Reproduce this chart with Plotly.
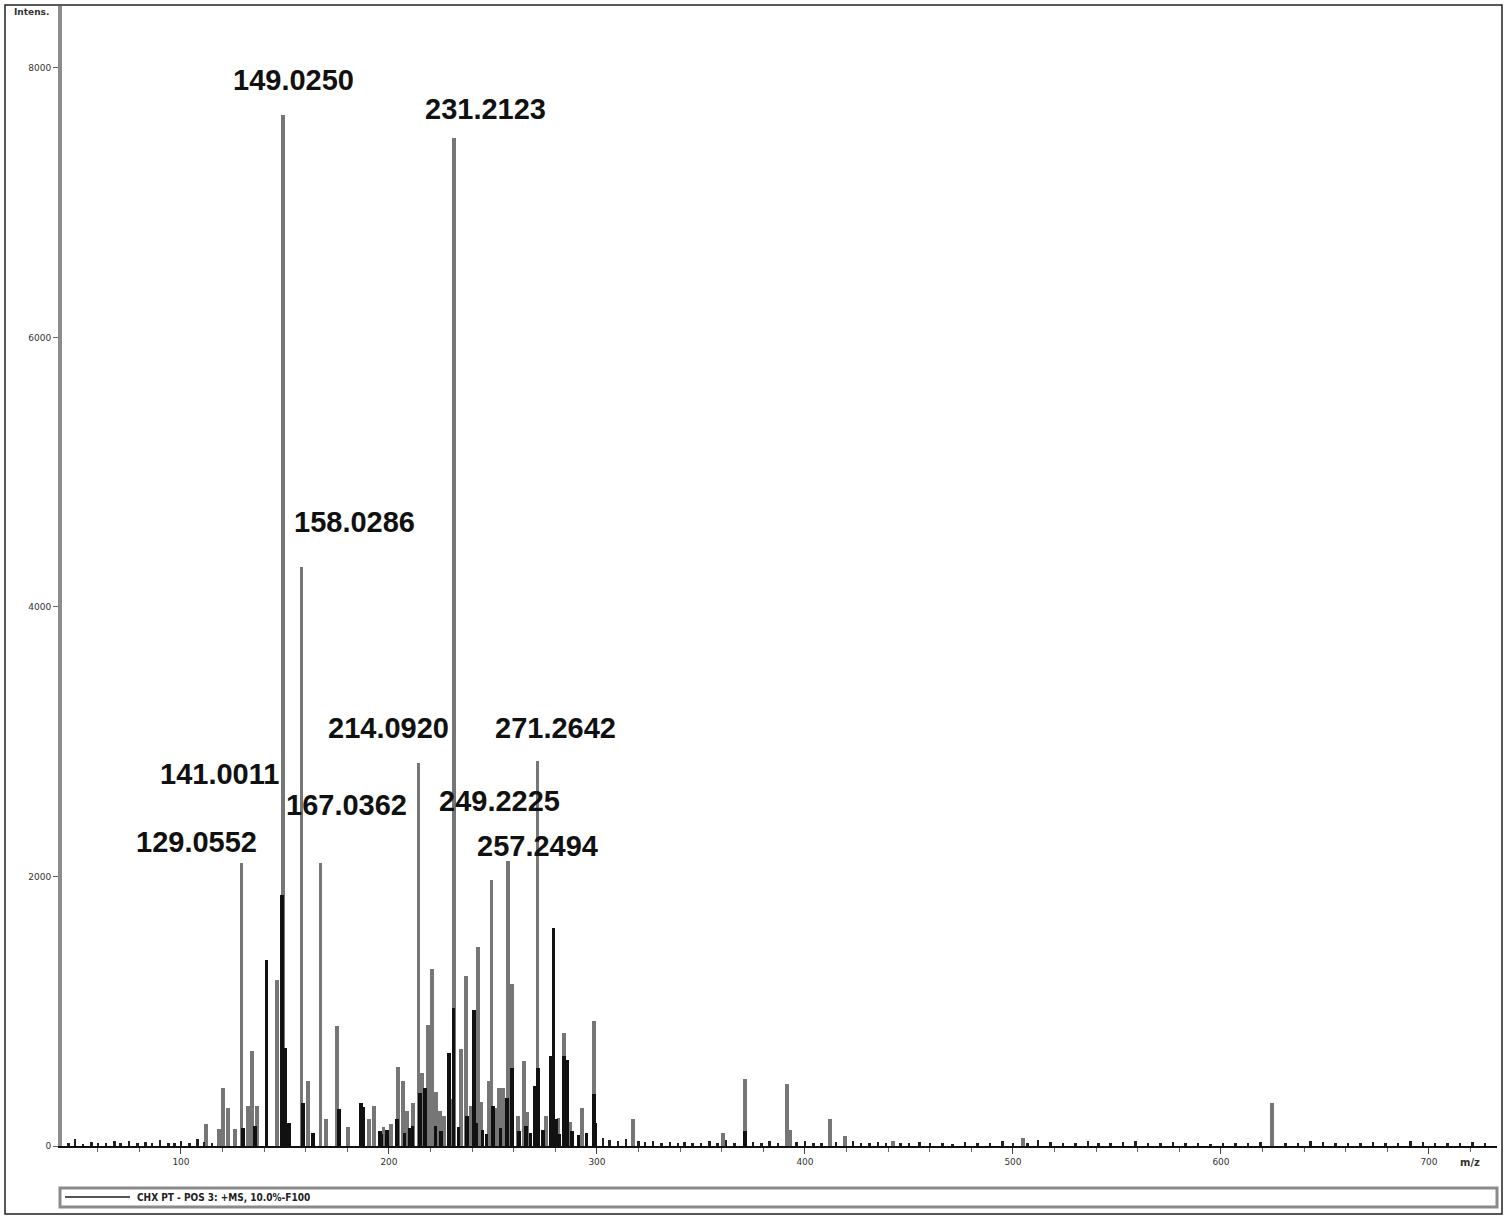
import plotly.graph_objects as go

# ---------------- data ----------------
# grey trace (m/z, intensity)
grey_mz = [112.0, 118.3, 120.2, 122.6, 126.0, 129.0552, 132.2, 134.1, 136.5, 146.2,
           149.0250, 158.0286, 161.1, 167.0362, 169.7, 175.0, 180.3, 190.4, 192.8, 201.0,
           204.3, 206.7, 208.7, 211.5, 214.0920, 215.9, 218.8, 220.7, 222.6, 226.4,
           231.2123, 234.6, 237.0, 242.8, 248.1, 249.2225, 252.9, 254.8, 257.2494, 259.1,
           262.0, 264.9, 271.2642, 275.5, 284.1, 292.8, 298.6, 317.3, 360.6, 371.2,
           391.3, 392.8, 412.0, 419.2, 442.3, 504.8, 624.5,
           197.5, 224.5, 229.5, 239.5, 244.5, 251.0, 266.5, 281.5, 287.0]
grey_int = [165, 125, 430, 280, 125, 2100, 300, 705, 300, 1230,
            7650, 4300, 480, 2100, 200, 890, 140, 200, 300, 160,
            590, 480, 260, 320, 2840, 540, 900, 1310, 400, 220,
            7480, 720, 1260, 1480, 480, 1975, 430, 430, 2115, 1200,
            225, 630, 2855, 220, 840, 280, 930, 200, 95, 500,
            460, 120, 200, 75, 40, 60, 320,
            140, 260, 350, 300, 330, 280, 250, 210, 180]

# black trace (m/z, intensity)
black_mz = [129.8, 135.6, 141.0011, 148.6, 150.0, 152.0, 158.6, 163.5, 175.9, 186.6,
            187.6, 195.7, 203.8, 211.2, 214.9, 217.3, 222.4, 228.8, 231.0, 237.5,
            240.9, 241.8, 250.0, 256.7, 259.1, 265.9, 270.2, 271.6, 277.9, 279.0,
            280.3, 284.1, 285.6, 298.6, 299.2, 371.2,
            196.5, 199.0, 207.5, 210.0, 225.0, 233.5, 245.0, 247.0, 253.5, 262.5,
            268.0, 274.0, 282.0, 288.0, 291.0, 295.0]
black_int = [130, 150, 1380, 1865, 725, 170, 320, 100, 275, 320,
             290, 110, 200, 150, 395, 430, 150, 690, 1025, 220,
             1010, 170, 300, 355, 580, 150, 445, 580, 670, 1615,
             200, 670, 640, 385, 170, 110,
             90, 120, 100, 130, 110, 140, 120, 90, 130, 110,
             100, 120, 90, 110, 80, 100]

# baseline noise (m/z, intensity)
noise_mz = [46, 49, 53, 57, 60, 64, 68, 71, 75, 79, 83, 86, 90, 94, 97, 100, 104, 108,
            111, 115, 303, 306, 310, 314, 320, 323, 327, 331, 335, 339, 342, 346, 350,
            354, 358, 362, 366, 375, 379, 383, 387, 396, 400, 404, 408, 415, 423, 427,
            431, 435, 439, 446, 450, 455, 460, 466, 471, 477, 483, 489, 495, 500, 507,
            512, 518, 524, 530, 536, 541, 547, 553, 559, 565, 571, 577, 583, 589, 595,
            601, 607, 613, 619, 631, 637, 643, 649, 655, 661, 667, 673, 679, 685, 691,
            697, 703, 709, 715, 721, 727]
noise_int = [20, 55, 15, 30, 20, 25, 40, 20, 35, 25, 30, 20, 45, 25, 20, 40, 25, 50,
             30, 20, 60, 45, 35, 50, 40, 30, 35, 25, 30, 20, 30, 25, 20, 35, 25, 45,
             20, 30, 25, 35, 20, 30, 40, 25, 20, 30, 35, 20, 25, 30, 20, 25, 20, 30,
             25, 20, 15, 30, 20, 25, 35, 20, 25, 45, 30, 20, 25, 35, 20, 25, 30, 40,
             20, 25, 30, 20, 25, 15, 20, 25, 20, 30, 25, 20, 35, 30, 20, 25, 20, 30,
             25, 20, 35, 30, 25, 20, 25, 30, 20]

# peak labels
label_text = ["149.0250", "231.2123", "158.0286", "214.0920", "271.2642",
              "141.0011", "167.0362", "249.2225", "129.0552", "257.2494"]
label_mz = [149.0250, 231.2123, 158.0286, 214.0920, 271.2642,
            141.0011, 167.0362, 249.2225, 129.0552, 257.2494]
label_int = [7650, 7480, 4300, 2840, 2855, 1380, 2100, 1975, 2100, 2115]

y_ticks = [0, 2000, 4000, 6000, 8000]
x_ticks = [100, 200, 300, 400, 500, 600, 700]
legend_text = "CHX PT - POS 3: +MS, 10.0%-F100"

# ---------------- layout constants ----------------
W, H = 1508, 1219
L, R, T, B = 62, 11, 6, 73
PW, PH = W - L - R, H - T - B

def px(xpix):
    return (xpix - L) / PW

def py(ypix):
    return (H - B - ypix) / PH

label_shift = [(11, 35), (32, 29), (53, 45), (-30, 35), (18, 33),
               (-47, 186), (26, 58), (8, 79), (-45, 21), (29, 15)]

fig = go.Figure()
fig.add_trace(go.Bar(x=grey_mz, y=grey_int, width=1.6, marker=dict(color="#767676", line=dict(width=0)),
                     showlegend=False))
fig.add_trace(go.Bar(x=black_mz, y=black_int, width=1.6, marker=dict(color="#111111", line=dict(width=0)),
                     showlegend=False))
fig.add_trace(go.Bar(x=noise_mz, y=noise_int, width=1.2, marker=dict(color="#222222", line=dict(width=0)),
                     showlegend=False))

annotations = []
for t, m, v, (dx, dy) in zip(label_text, label_mz, label_int, label_shift):
    annotations.append(dict(x=m, y=v, xref="x", yref="y", text="<b>" + t + "</b>", showarrow=False,
                            xshift=dx, yshift=dy,
                            font=dict(family="Liberation Sans, Arial, sans-serif",
                                      size=29, color="#111111"),
                            xanchor="center", yanchor="middle"))
annotations.append(dict(x=px(32), y=py(12), xref="paper", yref="paper", text="<b>Intens.</b>",
                        showarrow=False, font=dict(size=9, color="#333", family="DejaVu Sans"),
                        xanchor="center", yanchor="middle"))
annotations.append(dict(x=719.7, y=py(1162), xref="x", yref="paper", text="<b>m/z</b>",
                        showarrow=False, font=dict(size=10, color="#333", family="DejaVu Sans"),
                        xanchor="center", yanchor="middle"))
annotations.append(dict(x=px(135), y=py(1197), xref="paper", yref="paper", text="<b>" + legend_text + "</b>",
                        showarrow=False, font=dict(size=10, color="#222", family="DejaVu Sans Condensed"),
                        xanchor="left", yanchor="middle"))

shapes = [
    dict(type="rect", xref="paper", yref="paper", x0=px(5), x1=px(1502), y0=py(1214), y1=py(5),
         line=dict(color="#222", width=1.5)),
    dict(type="rect", xref="paper", yref="paper", x0=px(60), x1=px(1497), y0=py(1207), y1=py(1188),
         line=dict(color="#8a8a8a", width=3)),
    dict(type="line", xref="paper", yref="paper", x0=px(65), x1=px(130), y0=py(1197), y1=py(1197),
         line=dict(color="#555", width=2)),
]

fig.update_layout(
    width=W, height=H,
    margin=dict(l=L, r=R, t=T, b=B),
    paper_bgcolor="white", plot_bgcolor="white",
    barmode="overlay", bargap=0,
    annotations=annotations, shapes=shapes,
    showlegend=False,
)
fig.update_xaxes(range=[42.8, 732.7], tickvals=x_ticks, ticktext=[str(v) for v in x_ticks],
                 showgrid=False, zeroline=False, showline=True, linecolor="#111", linewidth=2,
                 ticks="outside", ticklen=6, tickcolor="#444",
                 minor=dict(dtick=20, ticks="outside", ticklen=4, tickcolor="#666"),
                 tickfont=dict(size=9, color="#333", family="DejaVu Sans"))
fig.update_yaxes(range=[0, 8460], tickvals=y_ticks, ticktext=[str(v) for v in y_ticks],
                 showgrid=False, zeroline=False, showline=True, linecolor="#8c8c8c", linewidth=4,
                 ticks="outside", ticklen=5, tickcolor="#666",
                 tickfont=dict(size=9, color="#333", family="DejaVu Sans"))

fig.write_html("out.html", config={"displayModeBar": False},
               post_script="document.body.style.margin='0';")
